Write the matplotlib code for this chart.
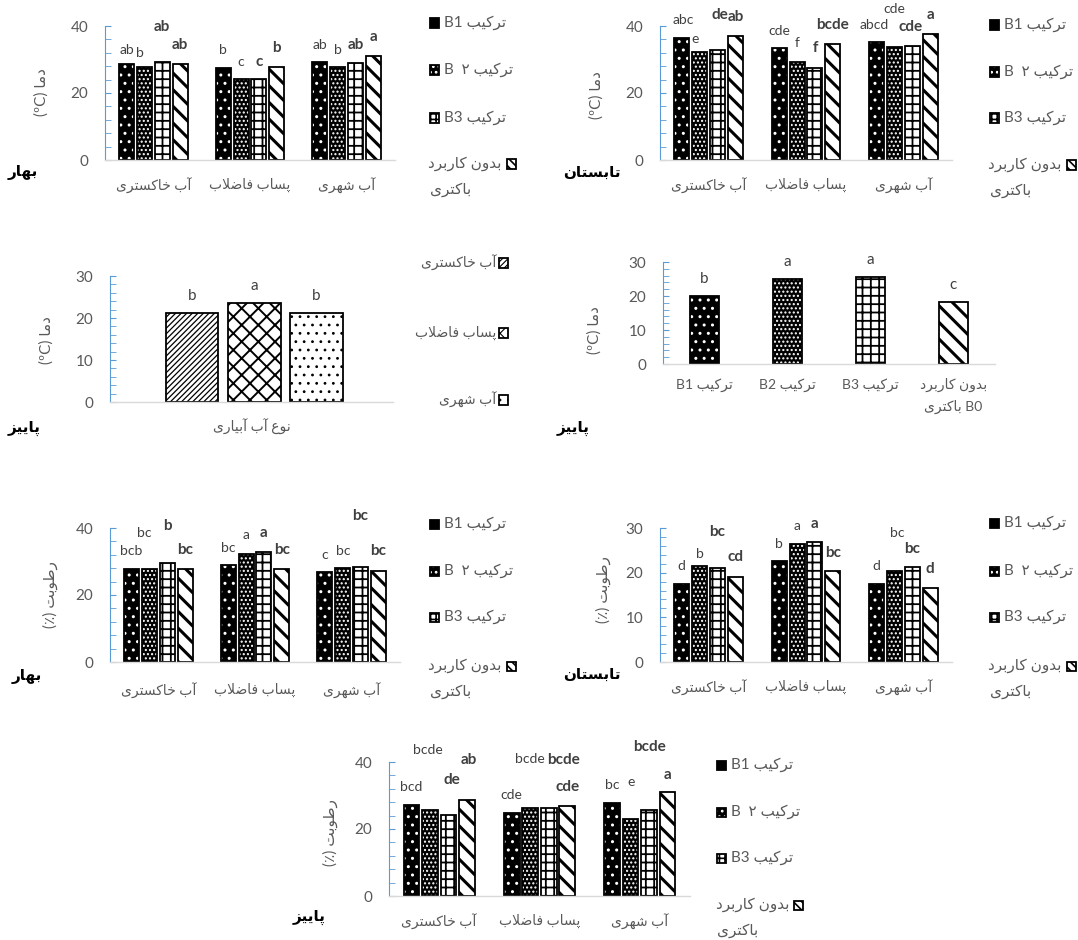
import matplotlib
matplotlib.use("Agg")
import matplotlib.pyplot as plt
from matplotlib.patches import Rectangle
import numpy as np

# ---- data (rows: water type, cols: B1, B2, B3, B0) ----
WATER = ['آب خاکستری', 'پساب فاضلاب', 'آب شهری']
SERIES = ['ترکیب B1', 'ترکیب ۲  B', 'ترکیب B3', 'بدون کاربرد\nباکتری']
BACTERIA = ['ترکیب B1', 'ترکیب B2', 'ترکیب B3', 'بدون کاربرد\nB0 باکتری']
WATER_AXIS = 'نوع آب آبیاری'
TEMP_LABEL = 'دما (ºC)'
HUM_LABEL = 'رطوبت (٪)'
SPRING, SUMMER, AUTUMN = 'بهار', 'تابستان', 'پاییز'

spring_temp = [[28.6, 27.9, 29.2, 28.8], [27.4, 24.2, 24.2, 27.7], [29.4, 27.7, 28.9, 31.0]]
spring_temp_lab = [['ab', 'b', 'ab', 'ab'], ['b', 'c', 'c', 'b'], ['ab', 'b', 'ab', 'a']]

summer_temp = [[36.3, 32.1, 32.8, 37.1], [33.3, 29.2, 27.4, 34.6], [35.1, 33.6, 34.0, 37.5]]
summer_temp_lab = [['abc', 'e', 'de', 'ab'], ['cde', 'f', 'f', 'bcde'], ['abcd', 'cde', 'cde', 'a']]

autumn_temp_water = [21.2, 23.5, 21.2]
autumn_temp_water_lab = ['b', 'a', 'b']
autumn_temp_bact = [20.0, 25.1, 25.6, 18.3]
autumn_temp_bact_lab = ['b', 'a', 'a', 'c']

spring_hum = [[27.7, 27.9, 29.5, 27.9], [28.9, 32.3, 32.7, 27.9], [26.8, 28.0, 28.5, 27.1]]
spring_hum_lab = [['bcb', 'bc', 'b', 'bc'], ['bc', 'a', 'a', 'bc'], ['c', 'bc', 'bc', 'bc']]

summer_hum = [[17.5, 21.6, 21.1, 19.0], [22.6, 26.5, 26.9, 20.4], [17.5, 20.4, 21.3, 16.6]]
summer_hum_lab = [['d', 'b', 'bc', 'cd'], ['b', 'a', 'a', 'bc'], ['d', 'bc', 'bc', 'd']]

autumn_hum = [[27.1, 25.8, 24.1, 28.6], [24.9, 26.4, 26.4, 26.9], [27.8, 23.1, 25.8, 31.1]]
autumn_hum_lab = [['bcd', 'bcde', 'de', 'ab'], ['cde', 'bcde', 'bcde', 'cde'], ['bc', 'e', 'bcde', 'a']]

# label placement (offset above bar in data units, sideways shift in category units)
spring_temp_dy = [[4.2, 3.9, 10.6, 5.5], [5.4, 5.2, 5.2, 5.6], [4.9, 5.1, 5.4, 5.8]]
spring_temp_dx = [[0, -0.05, 0, 0], [0, 0, 0, 0], [0, 0, 0, 0]]
summer_temp_dy = [[5.5, 3.9, 10.5, 5.5], [5.3, 5.6, 5.9, 5.7], [5.2, 11.4, 5.8, 5.8]]
summer_temp_dx = [[0.02, -0.05, 0.02, 0], [0, 0, 0, 0], [-0.02, 0, -0.02, 0]]
spring_hum_dy = [[5.3, 10.6, 11.0, 5.6], [5.1, 5.7, 5.8, 5.6], [5.2, 5.0, 15.0, 5.9]]
spring_hum_dx = [[0, -0.05, 0, 0], [0, 0, 0, 0], [0, 0, 0, 0]]
summer_hum_dy = [[3.9, 2.5, 8.0, 4.4], [3.9, 3.9, 4.1, 4.0], [3.9, 8.5, 4.1, 4.3]]
summer_hum_dx = [[0, 0, 0, 0], [0, 0, 0, 0], [0, 0.03, 0, 0]]
autumn_hum_dy = [[5.5, 17.7, 10.4, 11.9], [5.2, 14.6, 14.1, 5.7], [5.2, 10.9, 18.7, 4.9]]
autumn_hum_dx = [[0, -0.02, 0.03, 0.02], [0, 0, 0.15, 0], [0, 0, 0, 0]]

# ---- styles ----
BLUE = '#5B9BD5'
AXGREY = '#D9D9D9'
TXT = '#595959'
LAB = '#404040'
STYLES = [dict(fc='black', hc='white', hatch='..', hlw=1.0),
          dict(fc='black', hc='white', hatch='....', hlw=1.0),
          dict(fc='white', hc='black', hatch='++', hlw=1.3),
          dict(fc='white', hc='black', hatch='\\\\', hlw=2.2)]
MARKER_HATCH = ['', '...', '+++', '\\\\\\\\']
WSTYLES = [dict(fc='white', hc='black', hatch='//////', hlw=0.9),
           dict(fc='white', hc='black', hatch='xx', hlw=1.4),
           dict(fc='white', hc='black', hatch='..', hlw=0.8)]

plt.rcParams['font.family'] = ['Lato', 'DejaVu Sans']

# ---- minimal Persian shaping (presentation forms) ----
FORMS = {
    'ا': ('\uFE8D', '\uFE8E', None, None), 'آ': ('\uFE81', '\uFE82', None, None),
    'ب': ('\uFE8F', '\uFE90', '\uFE91', '\uFE92'), 'پ': ('\uFB56', '\uFB57', '\uFB58', '\uFB59'),
    'ت': ('\uFE95', '\uFE96', '\uFE97', '\uFE98'), 'خ': ('\uFEA5', '\uFEA6', '\uFEA7', '\uFEA8'),
    'د': ('\uFEA9', '\uFEAA', None, None), 'ر': ('\uFEAD', '\uFEAE', None, None),
    'ز': ('\uFEAF', '\uFEB0', None, None),
    'س': ('\uFEB1', '\uFEB2', '\uFEB3', '\uFEB4'), 'ش': ('\uFEB5', '\uFEB6', '\uFEB7', '\uFEB8'),
    'ض': ('\uFEBD', '\uFEBE', '\uFEBF', '\uFEC0'), 'ط': ('\uFEC1', '\uFEC2', '\uFEC3', '\uFEC4'),
    'ع': ('\uFEC9', '\uFECA', '\uFECB', '\uFECC'), 'ف': ('\uFED1', '\uFED2', '\uFED3', '\uFED4'),
    'ل': ('\uFEDD', '\uFEDE', '\uFEDF', '\uFEE0'), 'م': ('\uFEE1', '\uFEE2', '\uFEE3', '\uFEE4'),
    'ن': ('\uFEE5', '\uFEE6', '\uFEE7', '\uFEE8'), 'ه': ('\uFEE9', '\uFEEA', '\uFEEB', '\uFEEC'),
    'و': ('\uFEED', '\uFEEE', None, None), 'ک': ('\uFB8E', '\uFB8F', '\uFB90', '\uFB91'),
    'ی': ('\uFBFC', '\uFBFD', '\uFBFE', '\uFBFF'),
}
LAM_ALEF = {'ا': ('\uFEFB', '\uFEFC'), 'آ': ('\uFEF5', '\uFEF6')}


def joins_next(c):
    return c in FORMS and FORMS[c][2] is not None


def shape(word):
    out, i, n = [], 0, len(word)
    while i < n:
        c = word[i]
        if c not in FORMS:
            out.append(c)
            i += 1
            continue
        prev_j = i > 0 and joins_next(word[i - 1])
        if c == 'ل' and i + 1 < n and word[i + 1] in LAM_ALEF:
            iso, fin = LAM_ALEF[word[i + 1]]
            out.append(fin if prev_j else iso)
            i += 2
            continue
        next_j = joins_next(c) and i + 1 < n and word[i + 1] in FORMS
        iso, fin, ini, med = FORMS[c]
        out.append(med if prev_j and next_j else fin if prev_j else ini if next_j else iso)
        i += 1
    return ''.join(reversed(out))


def vis(text):
    lines = []
    for line in text.split('\n'):
        words = [shape(w) if any(ch in FORMS for ch in w) else w for w in line.split(' ')]
        lines.append(' '.join(reversed(words)))
    return '\n'.join(lines)


# ---- figure ----
W, H = 1078, 940
fig = plt.figure(figsize=(W / 100, H / 100), dpi=100)
fig.patch.set_facecolor('white')


def fx(x):
    return x / W


def fy(y):
    return 1 - y / H


def make_axes(x0, y0, x1, ytop, ymax, major, minor, pad=13):
    ax = fig.add_axes([fx(x0), fy(y0), (x1 - x0) / W, (y0 - ytop) / H])
    ax.set_ylim(0, ymax)
    ax.set_yticks(np.arange(0, ymax + 1, major))
    ax.set_yticks(np.arange(0, ymax + 0.1, minor), minor=True)
    for s in ('top', 'right'):
        ax.spines[s].set_visible(False)
    ax.spines['left'].set_color(BLUE)
    ax.spines['bottom'].set_color(AXGREY)
    ax.spines['bottom'].set_linewidth(1.0)
    ax.tick_params(axis='y', which='both', direction='in', color=BLUE, length=4,
                   labelsize=11, labelcolor=TXT, pad=12)
    ax.tick_params(axis='x', length=0, labelsize=10, labelcolor=TXT, pad=pad)
    ax.set_facecolor('none')
    return ax


def styled_bar(ax, x, h, width, st):
    bars = ax.bar(x, h, width, color=st['fc'], edgecolor=st['hc'], hatch=st['hatch'], linewidth=0)
    for b in bars:
        if hasattr(b, 'set_hatch_linewidth'):
            b.set_hatch_linewidth(st['hlw'])
    ax.bar(x, h, width, fill=False, edgecolor='black', linewidth=1.3)


def bar_label(ax, x, y, text, series):
    bold = series >= 2
    ax.text(x, y, text, ha='center', va='center', color=LAB, clip_on=False,
            fontsize=11 if bold else 10, fontweight='bold' if bold else 'normal')


def grouped(ax, vals, labs, dys, dxs):
    vals = np.array(vals)
    ncat, nser = vals.shape
    step, width = 0.184, 0.155
    xc = np.arange(ncat)
    for j in range(nser):
        xs = xc + (j - (nser - 1) / 2) * step
        with plt.rc_context({'hatch.linewidth': STYLES[j]['hlw']}):
            styled_bar(ax, xs, vals[:, j], width, STYLES[j])
        for i in range(ncat):
            bar_label(ax, xs[i] + dxs[i][j], vals[i, j] + dys[i][j], labs[i][j], j)
    ax.set_xlim(-0.5, ncat - 0.5)
    ax.set_xticks(xc, [vis(c) for c in WATER])


def legend4(x0, ys):
    s = 9
    for j, (name, y) in enumerate(zip(SERIES, ys)):
        st = STYLES[j]
        if j < 3:
            mx = x0
            fig.text(fx(x0 + 10), fy(y), vis(name), ha='left', va='center', fontsize=11, color=TXT)
        else:
            mx = x0 + 77
            first, second = name.split('\n')
            fig.text(fx(x0 + 68), fy(y), vis(first), ha='right', va='center', fontsize=11, color=TXT)
            fig.text(fx(x0 - 4), fy(y + 26), vis(second), ha='left', va='center', fontsize=11, color=TXT)
        with plt.rc_context({'hatch.linewidth': 1.2}):
            r = Rectangle((fx(mx - s / 2), fy(y + s / 2)), s / W, s / H, transform=fig.transFigure,
                          facecolor=st['fc'], edgecolor=st['hc'], hatch=MARKER_HATCH[j], linewidth=0)
        fig.add_artist(r)
        fig.add_artist(Rectangle((fx(mx - s / 2), fy(y + s / 2)), s / W, s / H, transform=fig.transFigure,
                                 fill=False, edgecolor='black', linewidth=1.3))


def ylabel(x, y, text):
    fig.text(fx(x), fy(y), vis(text), rotation=90, ha='center', va='center', fontsize=11, color=TXT)


def season(x, y, text):
    fig.text(fx(x), fy(y), vis(text), ha='center', va='center', fontsize=11, fontweight='bold', color='black')


# 1: spring temperature
ax1 = make_axes(105, 160, 395, 26, 40, 20, 4)
grouped(ax1, spring_temp, spring_temp_lab, spring_temp_dy, spring_temp_dx)
legend4(434, [23, 70, 118, 164])
ylabel(42, 92, TEMP_LABEL)
season(23, 173, SPRING)

# 2: summer temperature
ax2 = make_axes(660, 160, 952, 26, 40, 20, 4)
grouped(ax2, summer_temp, summer_temp_lab, summer_temp_dy, summer_temp_dx)
legend4(994, [25, 72, 118, 165])
ylabel(597, 95, TEMP_LABEL)
season(592, 173, SUMMER)

# 3: autumn temperature by irrigation water
ax3 = make_axes(110, 402, 393, 276, 30, 10, 2, pad=12)
for k, (v, lab) in enumerate(zip(autumn_temp_water, autumn_temp_water_lab)):
    xk = (k - 1) * 0.22 + 0.01
    with plt.rc_context({'hatch.linewidth': WSTYLES[k]['hlw']}):
        styled_bar(ax3, [xk], [v], 0.185, WSTYLES[k])
    ax3.text(xk, v + 4.0, lab, ha='center', va='center', color=LAB, fontsize=11)
ax3.set_xlim(-0.5, 0.5)
ax3.set_xticks([0], [vis(WATER_AXIS)])
for k, (name, y) in enumerate(zip(WATER, [263, 333, 400])):
    st = WSTYLES[k]
    fig.text(fx(496), fy(y), vis(name), ha='right', va='center', fontsize=10, color=TXT)
    with plt.rc_context({'hatch.linewidth': 0.8}):
        fig.add_artist(Rectangle((fx(499), fy(y + 4.5)), 9 / W, 9 / H, transform=fig.transFigure,
                                 facecolor=st['fc'], edgecolor=st['hc'], hatch=st['hatch'], linewidth=0))
    fig.add_artist(Rectangle((fx(499), fy(y + 4.5)), 9 / W, 9 / H, transform=fig.transFigure,
                             fill=False, edgecolor='black', linewidth=1.3))
ylabel(47, 340, TEMP_LABEL)
season(24, 428, AUTUMN)

# 4: autumn temperature by bacteria
ax4 = make_axes(663, 364, 995, 262, 30, 10, 2, pad=10)
for k, (v, lab) in enumerate(zip(autumn_temp_bact, autumn_temp_bact_lab)):
    with plt.rc_context({'hatch.linewidth': STYLES[k]['hlw']}):
        styled_bar(ax4, [k], [v], 0.34, STYLES[k])
    ax4.text(k, v + 5.0, lab, ha='center', va='center', color=LAB, fontsize=11)
ax4.set_xlim(-0.5, 3.5)
ax4.set_xticks(range(4), [vis(b) for b in BACTERIA])
for t in ax4.get_xticklabels():
    t.set_linespacing(1.7)
ylabel(595, 330, TEMP_LABEL)
season(573, 428, AUTUMN)

# 5: spring humidity
ax5 = make_axes(110, 662, 400, 528, 40, 20, 4, pad=15)
grouped(ax5, spring_hum, spring_hum_lab, spring_hum_dy, spring_hum_dx)
legend4(434, [524, 571, 617, 666])
ylabel(50, 595, HUM_LABEL)
season(27, 677, SPRING)

# 6: summer humidity
ax6 = make_axes(660, 662, 952, 528, 30, 10, 2)
grouped(ax6, summer_hum, summer_hum_lab, summer_hum_dy, summer_hum_dx)
legend4(994, [523, 571, 617, 666])
ylabel(603, 590, HUM_LABEL)
season(592, 675, SUMMER)

# 7: autumn humidity
ax7 = make_axes(389, 896, 690, 762, 40, 20, 4)
grouped(ax7, autumn_hum, autumn_hum_lab, autumn_hum_dy, autumn_hum_dx)
legend4(721, [765, 812, 858, 905])
ylabel(330, 833, HUM_LABEL)
season(309, 917, AUTUMN)

fig.savefig('out.png', dpi=100, facecolor='white')
